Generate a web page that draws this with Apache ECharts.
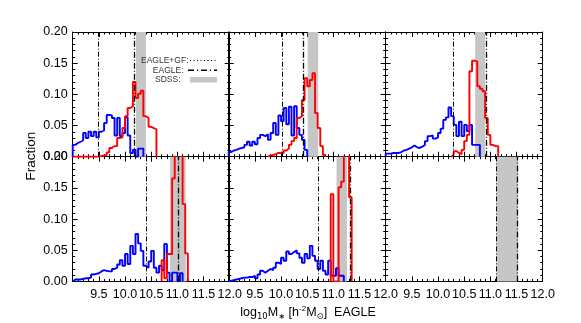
<!DOCTYPE html>
<html>
<head>
<meta charset="utf-8">
<script src="https://cdn.jsdelivr.net/npm/echarts@6/dist/echarts.min.js"></script>
<style>
html,body{margin:0;padding:0;background:#fff}
#chart{width:581px;height:323px}
</style>
</head>
<body>
<div id="chart"></div>
<script>
// axis ranges and tick labels
var xMin = 9.0, xMax = 12.0;
var yMin = 0, yMax = 0.2;
var xTickLabels = ['9.5', '10.0', '10.5', '11.0', '11.5', '12.0'];
var yTickLabels = ['0.00', '0.05', '0.10', '0.15', '0.20'];
var binWidth = 0.05;

// blue histograms (panel 1..5), bins of 0.05 dex from blueStart
var blueStart = [9.0, 9.0, 9.0, 9.0, 9.0];
var blue1 = [0.019,0.022,0.024,0.026,0.038,0.030,0.040,0.033,0.040,0.031,0.040,0.042,0.054,0.067,0.066,0.062,0.034,0.062,0.033,0.038,0.063,0.034,0.006,0.011,0.000,0.013,0.013];
var blue2 = [0.0075,0.010,0.011,0.013,0.014,0.015,0.019,0.024,0.018,0.024,0.020,0.030,0.035,0.033,0.036,0.027,0.038,0.054,0.035,0.066,0.057,0.078,0.052,0.080,0.034,0.081,0.046,0.035,0.027,0.011];
var blue3 = [0.005,0.005,0.006,0.006,0.006,0.0075,0.010,0.011,0.013,0.015,0.018,0.015,0.014,0.016,0.019,0.025,0.033,0.034,0.029,0.031,0.038,0.045,0.059,0.063,0.079,0.065,0.051,0.033,0.056,0.033,0.051,0.041,0.051,0.019,0.019,0.019];
var blue4 = [0.003,0.003,0.003,0.004,0.005,0.005,0.006,0.011,0.012,0.013,0.016,0.018,0.017,0.016,0.016,0.020,0.022,0.027,0.034,0.025,0.044,0.028,0.057,0.044,0.076,0.061,0.049,0.025,0.022,0.032,0.049,0.022,0.014,0.025,0.018,0.060,0.014,0.000,0.014,0.014,0.000,0.013];
var blue5 = [0.001,0.002,0.003,0.004,0.005,0.006,0.006,0.007,0.007,0.009,0.005,0.011,0.017,0.014,0.017,0.020,0.018,0.022,0.030,0.028,0.038,0.033,0.048,0.044,0.047,0.050,0.045,0.038,0.030,0.044,0.037,0.057,0.041,0.033,0.020,0.033,0.017,0.011,0.033,0.009,0.009,0.021,0.009,0.009];

// red histograms
var redStart = [9.0, 9.75, 10.25, 10.70, 10.95];
var red1 = [0,0,0,0,0,0,0,0,0,0,0.001,0.002,0.003,0.007,0.014,0.017,0.017,0.030,0.031,0.046,0.065,0.078,0.081,0.120,0.094,0.101,0.106,0.065,0.062,0.048,0.046,0.044];
var red2 = [0.002,0.003,0.004,0.006,0.006,0.006,0.010,0.013,0.019,0.025,0.030,0.062,0.065,0.091,0.126,0.113,0.123,0.134,0.070,0.046,0.017,0.003];
var red3 = [0.003,0.009,0.006,0.004,0.011,0.025,0.035,0.137,0.154,0.153,0.113,0.109,0.105,0.062,0.035,0.019,0.017,0.017];
var red4 = [0.034,0.005,0.044,0.044,0.165,0.25,0.30,0.25,0.124,0.045];
var red5 = [0.14,0,0,0.151,0.16,0.25,0.25,0.135];

// SDSS bands and EAGLE lines, one per panel (6 panels)
var sdssBand = [[10.21,10.40],[10.51,10.71],[10.71,10.90],[10.86,11.16],[11.06,11.26],[11.12,11.52]];
var eagleGfLine = [9.49, 10.02, 10.30, 10.41, 10.72, 11.12];
var eagleLine = [10.18, 10.42, 10.92, 11.01, 11.32, 11.52];

var blueData = [blue1, blue2, blue3, blue4, blue5];
var redData = [red1, red2, red3, red4, red5];

function stepPoints(start, vals) {
    var pts = [[start, 0]];
    for (var i = 0; i < vals.length; i++) {
        pts.push([+(start + i * binWidth).toFixed(3), vals[i]]);
    }
    pts.push([+(start + vals.length * binWidth).toFixed(3), 0]);
    return pts;
}

var font = 'Liberation Sans, Arial, sans-serif';
var colLeft = [72.7, 228.7, 385.7];
var rowTop = [32, 156.7];
var panelW = 157, panelH = 124.7;

var grids = [], xAxes = [], yAxes = [], series = [];

function xAxisDef(i, pos, showLabel) {
    return {
        type: 'value', gridIndex: i, position: pos, min: xMin, max: xMax, interval: 0.5,
        axisLine: {onZero: false, lineStyle: {color: '#000', width: 1}},
        axisTick: {inside: true, length: 5, lineStyle: {color: '#000'}},
        minorTick: {show: true, splitNumber: 5, length: 2.5, lineStyle: {color: '#000'}},
        splitLine: {show: false}, minorSplitLine: {show: false},
        axisLabel: {
            show: showLabel, margin: 7, color: '#000', fontSize: 12.5, fontFamily: font,
            showMinLabel: true, showMaxLabel: true,
            formatter: function (v) {
                var s = v.toFixed(1);
                return xTickLabels.indexOf(s) >= 0 ? s : '';
            }
        }
    };
}

function yAxisDef(i, pos, showLabel) {
    return {
        type: 'value', gridIndex: i, position: pos, min: yMin, max: yMax, interval: 0.05,
        axisLine: {onZero: false, lineStyle: {color: '#000', width: 1}},
        axisTick: {inside: true, length: 5, lineStyle: {color: '#000'}},
        minorTick: {show: true, splitNumber: 5, length: 2.5, lineStyle: {color: '#000'}},
        splitLine: {show: false}, minorSplitLine: {show: false},
        axisLabel: {
            show: showLabel, margin: 5, color: '#000', fontSize: 12.5, fontFamily: font,
            showMinLabel: true, showMaxLabel: true,
            formatter: function (v) {
                var s = v.toFixed(2);
                return yTickLabels.indexOf(s) >= 0 ? s : '';
            }
        }
    };
}

for (var i = 0; i < 6; i++) {
    var row = Math.floor(i / 3), col = i % 3;
    grids.push({left: colLeft[col], top: rowTop[row], width: panelW, height: panelH,
                outerBoundsMode: 'none', containLabel: false});
    xAxes.push(xAxisDef(i, 'bottom', row === 1));
    xAxes.push(xAxisDef(i, 'top', false));
    yAxes.push(yAxisDef(i, 'left', col === 0));
    yAxes.push(yAxisDef(i, 'right', false));

    // SDSS band
    series.push({
        type: 'line', xAxisIndex: 2 * i, yAxisIndex: 2 * i, data: [], z: 1,
        markArea: {
            silent: true, itemStyle: {color: '#c6c6c6', opacity: 1},
            data: [[{xAxis: sdssBand[i][0]}, {xAxis: sdssBand[i][1]}]]
        }
    });

    if (i < 5) {
        series.push({
            type: 'line', step: 'end', xAxisIndex: 2 * i, yAxisIndex: 2 * i, z: 3,
            symbol: 'none', clip: true,
            lineStyle: {color: '#0000ff', width: 1.9},
            data: stepPoints(blueStart[i], blueData[i])
        });
        series.push({
            type: 'line', step: 'end', xAxisIndex: 2 * i, yAxisIndex: 2 * i, z: 4,
            symbol: 'none', clip: true,
            lineStyle: {color: '#ff0000', width: 1.9},
            data: stepPoints(redStart[i], redData[i])
        });
    }

    // vertical EAGLE lines
    series.push({
        type: 'line', xAxisIndex: 2 * i, yAxisIndex: 2 * i, data: [], z: 5,
        markLine: {
            silent: true, symbol: ['none', 'none'], label: {show: false},
            data: [
                {xAxis: eagleGfLine[i], lineStyle: {color: '#000', width: 1, type: [5, 2, 1, 2]}},
                {xAxis: eagleLine[i], lineStyle: {color: '#000', width: 1.3, type: [6, 2, 1, 2]}}
            ]
        }
    });
}

var chart = echarts.init(document.getElementById('chart'));
chart.setOption({
    animation: false,
    backgroundColor: '#fff',
    grid: grids,
    xAxis: xAxes,
    yAxis: yAxes,
    series: series,
    graphic: [
        {type: 'text', x: 31, y: 156, rotation: Math.PI / 2, z: 100,
         style: {text: 'Fraction', fill: '#000', fontSize: 13.5, fontFamily: font,
                 align: 'center', verticalAlign: 'middle'}},
        {type: 'text', x: 308, y: 313, z: 100,
         style: {
             text: '{n|log}{s|10}{n|M}{s|\u2217} {n|[h}{p|-2}{n|M}{s|\u2299}{n|]  EAGLE}',
             align: 'center', verticalAlign: 'middle', fill: '#000',
             rich: {
                 n: {fontSize: 12.5, fontFamily: font, fill: '#000', lineHeight: 16},
                 s: {fontSize: 8.5, fontFamily: 'DejaVu Sans, sans-serif', fill: '#000', lineHeight: 9, verticalAlign: 'bottom'},
                 p: {fontSize: 8, fontFamily: font, fill: '#000', lineHeight: 9, verticalAlign: 'top'}
             }
         }},
        // legend in the first panel
        {type: 'text', x: 188.5, y: 60.5, z: 100,
         style: {text: 'EAGLE+GF:', fill: '#333', fontSize: 8.5, fontFamily: font, align: 'right', verticalAlign: 'middle'}},
        {type: 'line', z: 100, shape: {x1: 190, y1: 60.5, x2: 217, y2: 60.5},
         style: {stroke: '#000', lineWidth: 1, lineDash: [1, 2.5]}},
        {type: 'text', x: 183.5, y: 70.3, z: 100,
         style: {text: 'EAGLE:', fill: '#333', fontSize: 8.5, fontFamily: font, align: 'right', verticalAlign: 'middle'}},
        {type: 'line', z: 100, shape: {x1: 188, y1: 70.3, x2: 217, y2: 70.3},
         style: {stroke: '#000', lineWidth: 1.5, lineDash: [6, 3, 1, 3]}},
        {type: 'text', x: 180.5, y: 79.5, z: 100,
         style: {text: 'SDSS:', fill: '#333', fontSize: 8.5, fontFamily: font, align: 'right', verticalAlign: 'middle'}},
        {type: 'rect', z: 100, shape: {x: 190, y: 77, width: 27, height: 5.5},
         style: {fill: '#c6c6c6'}}
    ]
});

window.onresize = function () {
    chart.resize();
};
</script>
</body>
</html>
